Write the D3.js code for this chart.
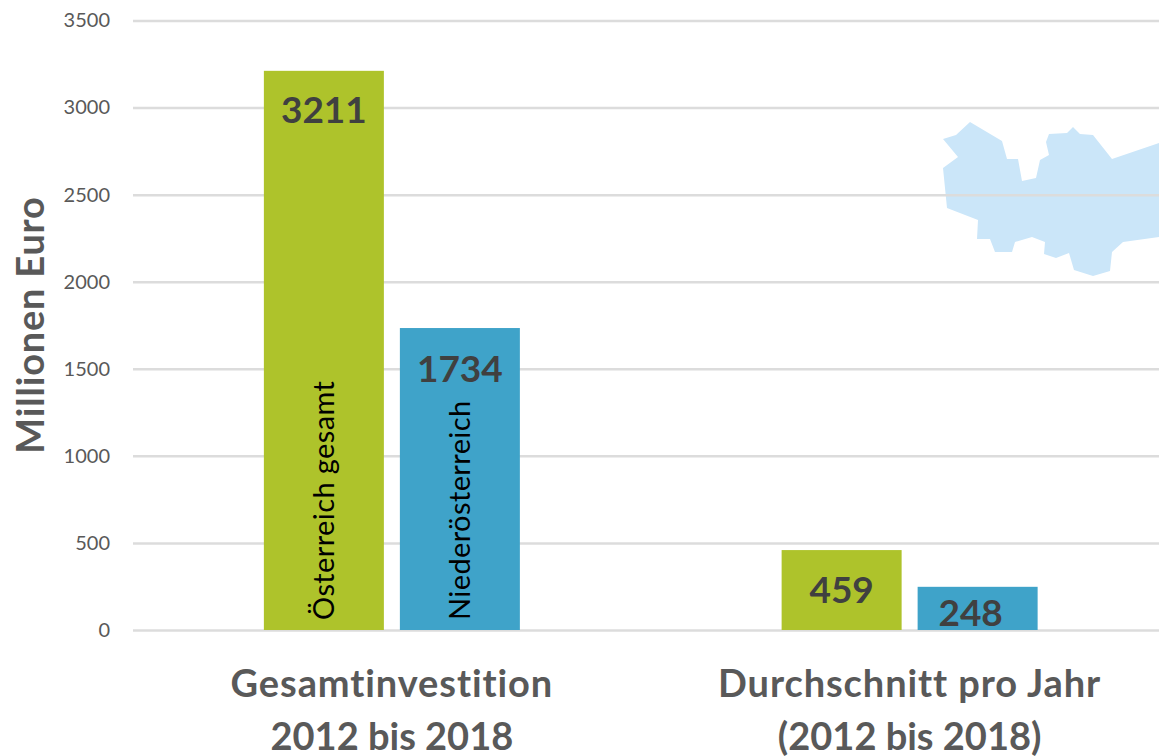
<!DOCTYPE html>
<html>
<head>
<meta charset="utf-8">
<script src="https://cdn.jsdelivr.net/npm/d3@7"></script>
<style>
  html, body { margin: 0; padding: 0; background: #fff; overflow: hidden; }
  text { font-family: Lato, "Open Sans", sans-serif; font-variant-ligatures: none; }
</style>
</head>
<body>
<div id="chart"></div>
<script>
const categories = [["Gesamtinvestition", "2012 bis 2018"], ["Durchschnitt pro Jahr", "(2012 bis 2018)"]];
const seriesNames = ["Österreich gesamt", "Niederösterreich"];
const oesterreich = [3211, 459];
const niederoesterreich = [1734, 248];
const yTicks = [0, 500, 1000, 1500, 2000, 2500, 3000, 3500];
// background map outline, decoration only
const mapOutline = [[943,139],[956,135],[970,122],[1002,141],[1007,159],[1018,159],[1022,181],[1036,178],[1040,160],[1049,155],[1046,142],[1049,134],[1067,133],[1073,127],[1080,134],[1093,135],[1112,159],[1159,143],[1159,237],[1123,242],[1112,252],[1110,271],[1093,276],[1074,270],[1069,253],[1056,258],[1044,254],[1045,242],[1032,237],[1015,242],[1012,252],[995,252],[990,239],[977,239],[978,220],[947,208],[943,168],[958,157]];

const width = 1159, height = 756;
const svg = d3.select("#chart").append("svg")
    .attr("width", width)
    .attr("height", height)
    .style("display", "block");

const x = d3.scaleBand().domain([0, 1]).range([133, 1168.5]);
const y = d3.scaleLinear().domain([0, 3500]).range([630, 20.5]);
const barWidth = 120, barGap = 16;

svg.append("path")
   .attr("d", d3.line()(mapOutline) + "Z")
   .attr("fill", "#cbe6f9");

// axis with the grid lines as long ticks
const axis = svg.append("g")
    .attr("transform", "translate(133,0)")
    .call(d3.axisLeft(y).tickValues(yTicks).tickFormat(d3.format("d")).tickSize(-1036).tickPadding(23));
axis.select(".domain").remove();
axis.selectAll("line").attr("stroke", "#dcdcdc").attr("stroke-width", 2.5);
axis.selectAll("text")
    .attr("fill", "#595959")
    .style("font-size", "20px");

const barX = (i, s) => x(i) + x.bandwidth() / 2 + (s === 0 ? -barGap / 2 - barWidth : barGap / 2);
const colors = ["#aec32b", "#3fa3c9"];
const labelY = [[y(3211) + 52, y(459) + 53], [y(1734) + 54, y(248) + 39]];
const labelShift = [[0, 0], [0, -7]];

[oesterreich, niederoesterreich].forEach((values, s) => {
    svg.append("g").selectAll("rect")
       .data(values)
       .join("rect")
       .attr("x", (d, i) => barX(i, s))
       .attr("y", d => y(d))
       .attr("width", barWidth)
       .attr("height", d => y(0) - y(d))
       .attr("fill", colors[s]);

    svg.append("g").selectAll("text")
       .data(values)
       .join("text")
       .attr("x", (d, i) => barX(i, s) + barWidth / 2 + labelShift[s][i])
       .attr("y", (d, i) => labelY[s][i])
       .attr("text-anchor", "middle")
       .attr("fill", "#404040")
       .style("font-size", "37px")
       .style("font-weight", 700)
       .text(d => d);

    // series name written up the first bar
    svg.append("text")
       .attr("transform", `translate(${barX(0, s) + barWidth / 2 + 10},620) rotate(-90)`)
       .attr("fill", "#000")
       .style("font-size", "29px")
       .style("letter-spacing", "0.4px")
       .text(seriesNames[s]);
});

// category labels, first line is spaced out a little to match the width
categories.forEach((lines, i) => {
    lines.forEach((line, k) => {
        svg.append("text")
           .attr("x", x(i) + x.bandwidth() / 2)
           .attr("y", 697 + k * 52.5)
           .attr("text-anchor", "middle")
           .attr("fill", "#595959")
           .style("font-size", "38px")
           .style("font-weight", 700)
           .style("letter-spacing", k === 0 ? "0.9px" : "0px")
           .text(line);
    });
});

svg.append("text")
   .attr("transform", "translate(44,325) rotate(-90)")
   .attr("text-anchor", "middle")
   .attr("fill", "#595959")
   .style("font-size", "38px")
   .style("font-weight", 700)
   .style("letter-spacing", "0.8px")
   .text("Millionen Euro");
</script>
</body>
</html>
